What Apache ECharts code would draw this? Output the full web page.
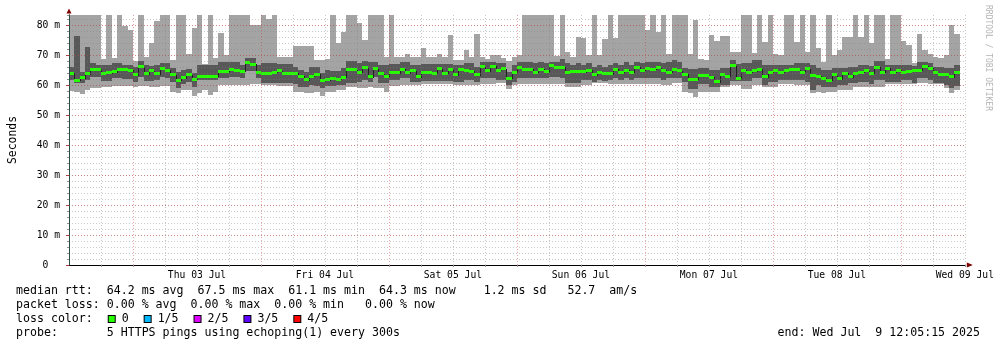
<!DOCTYPE html>
<html>
<head>
<meta charset="utf-8">
<script src="https://cdn.jsdelivr.net/npm/echarts@6/dist/echarts.min.js"></script>
<style>
  html, body { margin: 0; padding: 0; background: #ffffff; }
  #chart { width: 997px; height: 347px; }
</style>
</head>
<body>
<div id="chart"></div>
<script>
// One week of hourly SmokePing consolidations (5 HTTPS pings per round),
// hour 0 = Wed 02 Jul 12:00. Values are round-trip times in ms.
// A value of 90 means the ping ran above the top of the plot.

const dayLabels = ['Thu 03 Jul', 'Fri 04 Jul', 'Sat 05 Jul', 'Sun 06 Jul', 'Mon 07 Jul', 'Tue 08 Jul', 'Wed 09 Jul'];

// fastest ping of each hour
const pingMin = [
  58.1, 57.8, 56.9, 58.3, 59.0, 59.0, 59.2, 59.2, 59.7, 59.7, 59.7, 59.7, 59.3, 59.7, 59.7, 59.5, 59.5, 59.7, 59.7, 57.8, 57.2, 58.3, 58.3, 56.3, 57.4, 58.5, 56.6, 57.8,
  60.0, 60.0, 60.0, 60.0, 60.0, 60.0, 60.3, 60.3, 60.0, 60.0, 60.0, 59.7, 59.7, 59.7, 57.8, 57.8, 57.2, 57.2, 57.8, 56.3, 57.8, 57.8, 58.3, 58.3, 59.4, 59.4, 58.9, 58.9,
  59.4, 58.9, 58.9, 57.8, 59.7, 59.7, 60.0, 60.0, 60.0, 60.0, 60.3, 60.3, 60.3, 60.3, 60.3, 60.3, 60.0, 60.0, 60.0, 60.0, 60.0, 60.3, 60.3, 60.3, 60.6, 60.6, 58.7, 60.0,
  60.3, 60.3, 60.3, 60.3, 60.3, 60.3, 60.3, 60.3, 60.3, 59.4, 59.4, 59.4, 60.0, 60.0, 60.6, 60.6, 60.6, 60.3, 60.3, 60.3, 60.3, 60.3, 60.3, 60.3, 60.3, 60.3, 60.3, 60.0,
  60.0, 60.6, 60.6, 57.8, 57.4, 55.9, 57.8, 57.8, 57.8, 57.8, 59.2, 59.2, 60.0, 60.0, 58.7, 58.7, 60.0, 60.0, 59.4, 59.4, 59.4, 60.3, 60.3, 60.3, 60.0, 60.0, 60.0, 57.4,
  57.8, 57.2, 57.8, 57.8, 58.3, 58.3, 58.3, 59.2, 59.2, 59.2, 59.4, 59.4, 59.4, 60.3, 60.3, 60.3, 60.3, 60.3, 60.3, 60.6, 60.6, 60.3, 60.3, 60.3, 58.9, 57.2, 58.3,
  null
];

// second fastest ping
const pingLow = [
  61.7, 60.8, 60.8, 61.7, 62.8, 62.8, 61.4, 61.4, 62.2, 62.2, 61.9, 61.9, 61.1, 62.8, 61.4, 61.3, 61.7, 62.8, 62.2, 61.1, 58.9, 60.3, 61.1, 59.2, 61.7, 61.7, 61.7, 61.7,
  62.2, 62.2, 62.8, 62.8, 62.2, 64.7, 64.7, 62.2, 60.6, 60.6, 60.6, 60.6, 60.6, 60.6, 60.2, 59.4, 59.2, 60.0, 59.7, 58.9, 59.7, 59.7, 60.0, 60.0, 60.8, 60.8, 61.1, 61.7,
  61.1, 62.8, 60.6, 60.6, 61.7, 61.7, 62.2, 62.2, 61.1, 61.1, 61.4, 61.4, 61.4, 61.4, 61.4, 61.4, 61.1, 61.1, 61.7, 61.7, 61.1, 62.2, 62.2, 62.2, 61.7, 61.7, 60.0, 61.1,
  62.2, 62.2, 62.2, 62.2, 62.2, 62.2, 62.8, 62.8, 62.2, 60.8, 60.8, 60.8, 61.7, 61.7, 61.1, 61.7, 61.4, 61.7, 62.2, 61.7, 62.2, 61.7, 62.2, 62.2, 62.2, 62.2, 62.2, 61.7,
  62.2, 62.2, 62.2, 61.1, 58.6, 58.6, 60.3, 60.3, 59.2, 59.2, 60.0, 60.0, 61.4, 61.4, 61.4, 61.4, 62.2, 62.2, 60.0, 61.1, 61.1, 61.7, 61.7, 61.7, 61.7, 61.7, 61.1, 58.3,
  60.0, 59.2, 59.2, 59.4, 60.0, 60.0, 60.6, 60.6, 61.1, 61.1, 60.3, 61.7, 61.7, 61.1, 61.1, 61.1, 61.7, 61.7, 60.8, 62.2, 62.2, 61.7, 60.6, 60.6, 60.0, 58.9, 59.7,
  null
];

// median ping
const medianRtt = [
  63.9, 61.6, 62.4, 63.8, 65.3, 65.3, 64.0, 64.1, 64.4, 65.3, 65.1, 64.9, 63.4, 66.1, 63.8, 64.7, 63.8, 65.4, 64.9, 63.4, 61.6, 62.4, 63.4, 61.9, 63.0, 63.0, 63.0, 63.0,
  64.4, 64.4, 65.3, 65.0, 64.6, 67.5, 67.0, 64.3, 63.9, 63.9, 64.3, 64.8, 63.9, 64.0, 63.9, 62.9, 61.7, 62.9, 63.6, 61.4, 61.7, 62.1, 61.9, 62.6, 65.1, 65.1, 64.3, 65.7,
  62.7, 65.4, 63.8, 62.9, 64.1, 64.1, 65.2, 64.1, 64.7, 62.8, 64.3, 64.3, 63.9, 65.4, 63.9, 65.2, 63.4, 65.2, 64.8, 64.6, 63.4, 66.1, 64.7, 66.3, 64.9, 65.4, 62.3, 64.3,
  66.0, 65.3, 65.3, 64.2, 65.3, 64.4, 66.4, 65.8, 66.0, 64.2, 64.4, 64.6, 64.4, 65.0, 63.4, 64.3, 63.7, 63.8, 65.2, 64.1, 65.0, 64.2, 66.0, 64.9, 65.6, 65.2, 65.7, 64.9,
  64.3, 65.2, 64.7, 63.6, 61.9, 61.9, 63.2, 63.3, 62.6, 61.1, 63.4, 62.9, 66.4, 62.1, 64.9, 64.2, 64.7, 65.3, 62.8, 64.2, 64.7, 64.2, 65.0, 65.3, 65.1, 64.2, 65.4, 63.3,
  62.9, 62.2, 61.6, 63.4, 62.1, 63.9, 62.8, 63.9, 64.3, 64.8, 63.9, 65.9, 64.3, 65.6, 64.2, 64.9, 64.2, 64.6, 64.7, 65.0, 66.2, 65.6, 64.1, 63.6, 63.4, 62.8, 64.3,
  null
];

// fourth ping
const pingHigh = [
  65.9, 76.3, 64.4, 72.7, 67.4, 66.7, 66.7, 66.7, 67.4, 67.4, 66.7, 66.7, 66.1, 68.1, 66.7, 66.3, 66.7, 67.2, 67.4, 65.6, 64.4, 65.0, 65.2, 63.9, 66.7, 66.7, 66.7, 66.7,
  67.8, 67.8, 67.8, 67.8, 66.7, 69.1, 69.1, 66.7, 67.2, 67.2, 67.2, 67.0, 67.0, 67.0, 66.1, 65.0, 64.4, 65.9, 66.1, 64.1, 65.0, 64.7, 64.7, 65.6, 68.0, 68.0, 67.2, 68.1,
  67.8, 67.8, 66.7, 66.7, 67.0, 67.0, 67.8, 67.8, 66.7, 66.7, 67.0, 67.0, 67.0, 67.0, 67.0, 67.0, 66.7, 66.7, 67.2, 67.2, 66.1, 67.8, 67.8, 67.8, 67.2, 67.2, 64.4, 66.7,
  67.8, 67.8, 67.8, 67.2, 67.8, 67.2, 67.8, 67.8, 68.6, 67.2, 66.7, 67.2, 66.7, 67.2, 66.1, 66.7, 66.1, 66.7, 67.2, 66.7, 67.8, 66.7, 67.8, 67.2, 67.8, 67.8, 67.8, 67.2,
  67.8, 68.3, 67.8, 65.6, 65.2, 65.2, 65.8, 65.8, 65.0, 65.0, 65.6, 65.6, 68.3, 67.0, 67.2, 67.2, 68.3, 68.3, 66.7, 66.7, 66.7, 66.7, 66.7, 66.7, 67.2, 67.2, 67.2, 66.7,
  65.6, 65.0, 65.0, 65.6, 65.6, 65.6, 66.1, 66.1, 66.7, 66.7, 66.3, 68.1, 68.1, 66.7, 66.7, 66.7, 66.7, 66.7, 66.3, 67.8, 67.8, 67.2, 66.1, 66.1, 65.6, 65.6, 66.7,
  null
];

// slowest ping
const pingMax = [
  90, 90, 90, 90, 90, 90, 68.6, 90, 69.1, 90, 79.8, 78.3, 68.0, 90, 69.4, 73.9, 81.3, 90, 90, 68.3, 90, 90, 70.3, 79.0, 90, 67.0, 90, 69.0,
  77.2, 70.0, 90, 90, 90, 90, 80.0, 80.0, 90, 82.0, 90, 69.4, 69.4, 69.4, 73.0, 73.0, 73.0, 73.0, 68.3, 68.3, 68.6, 90, 73.9, 77.8, 90, 90, 80.6, 75.0,
  90, 90, 90, 69.4, 90, 69.4, 69.4, 70.2, 69.4, 69.4, 72.3, 69.4, 69.4, 70.2, 69.4, 76.7, 68.3, 68.3, 71.7, 69.4, 77.0, 69.4, 68.6, 70.0, 70.0, 68.9, 68.1, 69.4,
  70.0, 90, 90, 90, 90, 90, 90, 69.8, 90, 71.1, 69.4, 76.1, 75.6, 70.0, 90, 70.0, 75.2, 90, 75.8, 90, 90, 90, 90, 90, 78.3, 90, 77.8, 90,
  70.3, 90, 90, 90, 70.3, 81.7, 68.6, 68.3, 76.7, 74.7, 76.3, 76.3, 71.1, 71.1, 90, 90, 70.8, 90, 74.3, 90, 70.3, 70.0, 90, 90, 74.3, 90, 71.1, 90,
  72.2, 67.8, 90, 70.0, 71.7, 76.1, 76.1, 90, 76.1, 90, 73.9, 90, 90, 68.6, 90, 90, 74.8, 73.3, 67.2, 77.0, 71.7, 70.2, 69.4, 68.9, 70.0, 80.0, 77.0,
  null
];

const lossLevels = ['0', '1/5', '2/5', '3/5', '4/5'];
const lossColors = ['#26ff00', '#00b8ff', '#dd00ff', '#5e00ff', '#ff0000'];

const statLines = [
  'median rtt:  64.2 ms avg  67.5 ms max  61.1 ms min  64.3 ms now    1.2 ms sd   52.7  am/s',
  'packet loss: 0.00 % avg  0.00 % max  0.00 % min   0.00 % now',
  'probe:       5 HTTPS pings using echoping(1) every 300s'
];
const endStamp = 'end: Wed Jul  9 12:05:15 2025';

// ---- chart setup ----
const HOURS = 168;
const Y_TOP = 250 / 3;        // upper edge of the value axis (ms)
const BAR_HALF = 0.5;         // half height of the loss-coloured median bar (ms)
const MONO = '"DejaVu Sans Mono", "Liberation Mono", monospace';
const MINOR_GRID = 'rgba(128,128,128,0.42)';
const MAJOR_GRID = 'rgba(205,40,40,0.42)';
const AXIS_COLOR = '#2c4d43';
const ARROW_COLOR = '#7f0000';

const lightBand = [], darkBand = [], medianMarks = [];
for (let k = 0; k < medianRtt.length; k++) {
  if (medianRtt[k] == null) continue;
  lightBand.push([k, pingMin[k], pingMax[k]]);
  darkBand.push([k, pingLow[k], pingHigh[k]]);
  const prev = (k > 0 && medianRtt[k - 1] != null) ? medianRtt[k - 1] : medianRtt[k];
  medianMarks.push([k, medianRtt[k], prev]);
}

// vertical time grid: every 6 hours, midnights are major lines
const minorGridHours = [], majorGridHours = [];
for (let h = 6; h <= HOURS; h += 6) {
  ((h - 12) % 24 === 0 ? majorGridHours : minorGridHours).push([h, 0]);
}

// smoke band: one pixel-aligned block per hour
function bandRenderer(fill) {
  return function (params, api) {
    const k = api.value(0);
    const lo = api.value(1);
    const hi = Math.min(api.value(2), Y_TOP);
    const a = api.coord([k, lo]);
    const b = api.coord([k + 1, hi]);
    const x0 = Math.round(a[0]), x1 = Math.round(b[0]);
    const y0 = Math.round(b[1]), y1 = Math.round(a[1]);
    return {
      type: 'rect',
      shape: { x: x0, y: y0, width: x1 - x0, height: y1 - y0 },
      style: { fill: fill }
    };
  };
}

// median: dark step connector plus the loss-coloured bar
function medianRenderer(params, api) {
  const k = api.value(0), m = api.value(1), pm = api.value(2);
  const c = api.coord([k, m]);
  const x0 = Math.round(c[0]);
  const x1 = Math.round(api.coord([k + 1, m])[0]);
  const yM = Math.round(c[1]);
  const yP = Math.round(api.coord([k, pm])[1]);
  const top = Math.round(api.coord([k, m + BAR_HALF])[1]);
  const bot = Math.round(api.coord([k, m - BAR_HALF])[1]);
  return {
    type: 'group',
    children: [
      {
        type: 'line',
        shape: { x1: x0 + 0.5, y1: Math.min(yP, yM), x2: x0 + 0.5, y2: Math.max(yP, yM) + 1 },
        style: { stroke: '#202020', lineWidth: 1 }
      },
      {
        type: 'rect',
        shape: { x: x0, y: top, width: x1 - x0, height: bot - top },
        style: { fill: lossColors[0] }
      }
    ]
  };
}

// dotted vertical grid line spanning the plot
function gridLineRenderer(stroke) {
  return function (params, api) {
    const cs = params.coordSys;
    const x = Math.round(api.coord([api.value(0), 0])[0]) + 0.5;
    return {
      type: 'line',
      shape: { x1: x, y1: cs.y, x2: x, y2: cs.y + cs.height },
      style: { stroke: stroke, lineWidth: 1, lineDash: [1, 2] }
    };
  };
}

const chart = echarts.init(document.getElementById('chart'), null, { renderer: 'canvas' });

let legendText = 'loss color:  ';
const legendRich = { sp: { width: 2, height: 7 } };
lossLevels.forEach(function (lvl, i) {
  legendRich['b' + i] = { width: 6, height: 6, backgroundColor: lossColors[i], borderColor: '#000', borderWidth: 1 };
  legendText += '{sp|}{b' + i + '|} ' + lvl + (i < lossLevels.length - 1 ? '  ' : '');
});

chart.setOption({
  animation: false,
  backgroundColor: '#ffffff',
  grid: { left: 66, top: 15, width: 900, height: 250, containLabel: false },
  xAxis: [
    {
      type: 'value', min: 0, max: HOURS, interval: 6, position: 'bottom',
      axisLine: { show: true, onZero: false, lineStyle: { color: '#000000', width: 1 } },
      axisTick: { show: true, length: 2, lineStyle: { color: '#909090' } },
      axisLabel: {
        show: true, margin: 5, color: '#000000', fontFamily: MONO, fontSize: 9.7,
        showMinLabel: false, showMaxLabel: true,
        formatter: function (v) {
          return (v > 0 && v % 24 === 0) ? dayLabels[v / 24 - 1] : '';
        }
      },
      splitLine: { show: false },
      z: 7
    },
    {
      type: 'value', min: 0, max: HOURS, position: 'bottom',
      axisLine: {
        show: true, onZero: false, symbol: ['none', 'triangle'], symbolSize: [5, 6], symbolOffset: [0, 5],
        lineStyle: { color: ARROW_COLOR, width: 1 }
      },
      axisTick: { show: false }, axisLabel: { show: false }, splitLine: { show: false },
      z: 6
    }
  ],
  yAxis: [
    {
      type: 'value', min: 0, max: Y_TOP, interval: 2, position: 'left',
      axisLine: {
        show: true, onZero: false, symbol: ['none', 'triangle'], symbolSize: [5, 5], symbolOffset: [0, 4],
        lineStyle: { color: ARROW_COLOR, width: 1 }
      },
      axisTick: { show: true, length: 2, lineStyle: { color: '#909090' } },
      axisLabel: { show: false },
      splitLine: { show: true, showMinLine: false, showMaxLine: false, lineStyle: { color: MINOR_GRID, type: [1, 2], width: 1 } },
      z: 5
    },
    {
      type: 'value', min: 0, max: Y_TOP, interval: 10, position: 'left',
      name: 'Seconds', nameLocation: 'middle', nameRotate: 90, nameGap: 50,
      nameTextStyle: { fontFamily: MONO, fontSize: 11.4, color: '#000000' },
      axisLine: { show: true, onZero: false, lineStyle: { color: AXIS_COLOR, width: 1 } },
      axisTick: { show: true, length: 3, lineStyle: { color: '#b04040' } },
      axisLabel: {
        show: true, margin: 9, color: '#000000', fontFamily: MONO, fontSize: 9.7,
        showMaxLabel: false,
        formatter: function (v) {
          if (v === 0) return '0  ';
          return (v % 10 === 0) ? v + ' m' : '';
        }
      },
      splitLine: { show: true, showMinLine: false, showMaxLine: false, lineStyle: { color: MAJOR_GRID, type: [1, 2], width: 1 } },
      z: 8
    }
  ],
  series: [
    {
      name: 'outer smoke', type: 'custom', xAxisIndex: 0, yAxisIndex: 0,
      renderItem: bandRenderer('#a4a4a4'), data: lightBand,
      encode: { x: 0, y: [1, 2] }, silent: true, z: 1
    },
    {
      name: 'inner smoke', type: 'custom', xAxisIndex: 0, yAxisIndex: 0,
      renderItem: bandRenderer('#585858'), data: darkBand,
      encode: { x: 0, y: [1, 2] }, silent: true, z: 2
    },
    {
      name: 'median rtt', type: 'custom', xAxisIndex: 0, yAxisIndex: 0,
      renderItem: medianRenderer, data: medianMarks,
      encode: { x: 0, y: 1 }, silent: true, z: 3
    },
    {
      name: 'time grid', type: 'custom', xAxisIndex: 0, yAxisIndex: 0,
      renderItem: gridLineRenderer(MINOR_GRID), data: minorGridHours,
      encode: { x: 0, y: 1 }, silent: true, z: 4
    },
    {
      name: 'day grid', type: 'custom', xAxisIndex: 0, yAxisIndex: 0,
      renderItem: gridLineRenderer(MAJOR_GRID), data: majorGridHours,
      encode: { x: 0, y: 1 }, silent: true, z: 4
    }
  ],
  graphic: [
    {
      type: 'text', x: 16, y: 291,
      style: { text: statLines[0], font: '11.6px ' + MONO, fill: '#000000', verticalAlign: 'middle' }
    },
    {
      type: 'text', x: 16, y: 305,
      style: { text: statLines[1], font: '11.6px ' + MONO, fill: '#000000', verticalAlign: 'middle' }
    },
    {
      type: 'text', x: 16, y: 319,
      style: { text: legendText, rich: legendRich, font: '11.6px ' + MONO, fill: '#000000', verticalAlign: 'middle' }
    },
    {
      type: 'text', x: 16, y: 333,
      style: { text: statLines[2], font: '11.6px ' + MONO, fill: '#000000', verticalAlign: 'middle' }
    },
    {
      type: 'text', x: 980, y: 333,
      style: { text: endStamp, font: '11.6px ' + MONO, fill: '#000000', align: 'right', verticalAlign: 'middle' }
    },
    {
      type: 'text', x: 988, y: 5, rotation: -Math.PI / 2,
      style: { text: 'RRDTOOL / TOBI OETIKER', font: '8px ' + MONO, fill: '#b4b4b4', align: 'left', verticalAlign: 'middle' }
    }
  ]
});
</script>
</body>
</html>
